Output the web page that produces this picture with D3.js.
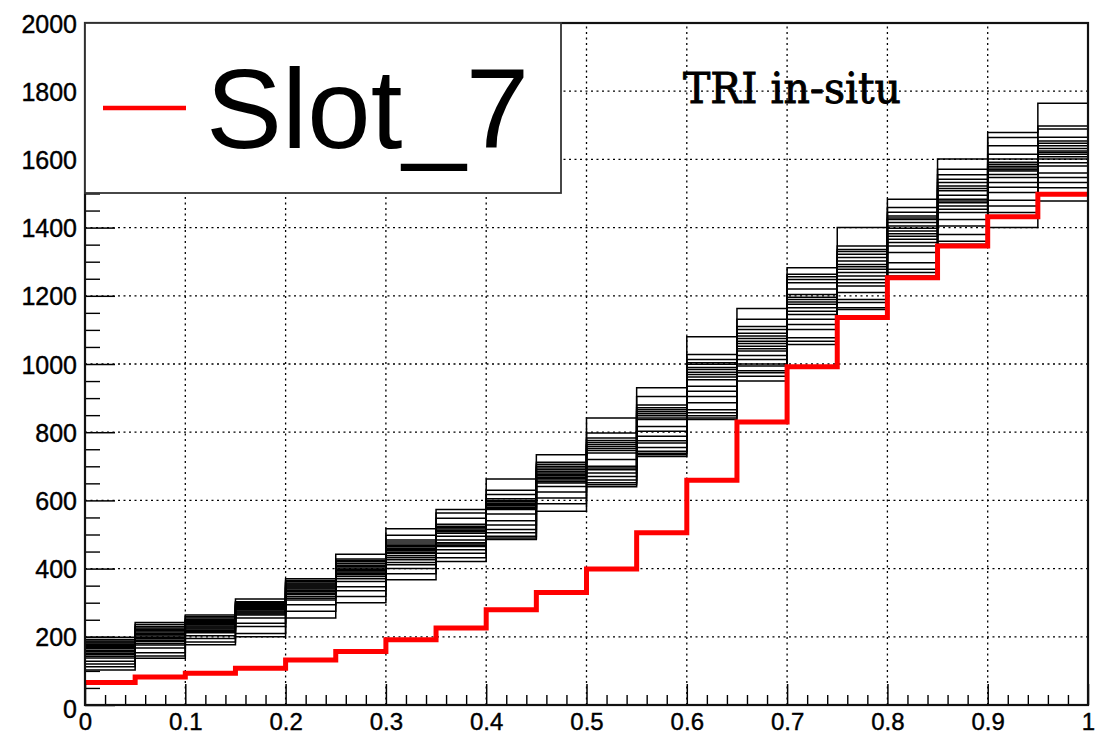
<!DOCTYPE html>
<html>
<head>
<meta charset="utf-8">
<script src="https://cdn.jsdelivr.net/npm/d3@7"></script>
<style>
  html, body { margin: 0; padding: 0; background: #fff; }
  svg { display: block; }
</style>
</head>
<body>
<svg id="chart" width="1105" height="736"></svg>
<script>
// Bin edges: 20 bins of width 0.05 on [0, 1]
const binEdges = d3.range(21).map(i => +(i * 0.05).toFixed(2));

// Slot_7 contents per bin
const slot7 = [66, 82, 93, 108, 132, 157, 191, 226, 279, 330,
               399, 505, 659, 830, 992, 1136, 1253, 1346, 1432, 1498];

// Contents of the other slots, listed bin by bin (one level per slot, high to low)
const otherSlotsByBin = [
  [199, 192, 188, 185, 182, 178, 175, 172, 168, 165, 160, 156, 152, 148, 143, 138, 128, 120, 112, 103],
  [242, 236, 230, 226, 222, 218, 214, 210, 206, 202, 198, 194, 190, 186, 180, 176, 167, 153, 144, 137],
  [264, 259, 255, 251, 248, 245, 242, 238, 235, 232, 229, 226, 223, 219, 215, 212, 203, 195, 185, 177],
  [311, 303, 300, 297, 294, 291, 288, 285, 282, 279, 276, 273, 270, 267, 264, 255, 240, 230, 210, 200],
  [370, 365, 362, 358, 355, 352, 349, 346, 343, 340, 336, 332, 328, 324, 318, 313, 308, 294, 275, 255],
  [442, 428, 424, 420, 415, 410, 406, 402, 398, 394, 390, 386, 382, 377, 370, 362, 347, 335, 318, 300],
  [517, 498, 484, 478, 472, 468, 464, 460, 456, 452, 448, 444, 438, 432, 426, 418, 411, 400, 385, 367],
  [573, 563, 548, 530, 524, 520, 516, 512, 508, 504, 495, 484, 476, 472, 468, 465, 455, 445, 432, 421],
  [663, 630, 617, 605, 600, 596, 592, 588, 584, 580, 576, 573, 560, 540, 528, 515, 505, 495, 490, 485],
  [734, 712, 706, 700, 695, 690, 685, 680, 676, 672, 668, 664, 660, 655, 651, 641, 625, 607, 590, 568],
  [842, 798, 783, 776, 770, 764, 758, 752, 746, 739, 720, 700, 695, 690, 680, 670, 660, 652, 646, 640],
  [930, 905, 880, 872, 866, 860, 854, 848, 842, 837, 817, 803, 788, 775, 768, 755, 744, 738, 734, 729],
  [1080, 1028, 1013, 1004, 999, 990, 984, 976, 969, 962, 954, 935, 920, 905, 886, 866, 857, 848, 842, 837],
  [1163, 1131, 1110, 1101, 1090, 1082, 1075, 1067, 1060, 1052, 1045, 1038, 1025, 1013, 1000, 994, 980, 974, 964, 950],
  [1282, 1263, 1256, 1248, 1238, 1220, 1204, 1196, 1189, 1182, 1175, 1165, 1155, 1145, 1131, 1116, 1101, 1077, 1067, 1057],
  [1400, 1346, 1336, 1330, 1322, 1312, 1302, 1292, 1285, 1278, 1268, 1258, 1248, 1238, 1229, 1210, 1189, 1180, 1165, 1160],
  [1483, 1459, 1445, 1434, 1428, 1424, 1415, 1405, 1398, 1390, 1382, 1375, 1366, 1356, 1346, 1327, 1297, 1278, 1268, 1258],
  [1601, 1571, 1555, 1542, 1532, 1522, 1515, 1508, 1495, 1483, 1478, 1473, 1463, 1454, 1444, 1424, 1405, 1380, 1360, 1351],
  [1679, 1664, 1640, 1615, 1601, 1592, 1586, 1580, 1575, 1570, 1566, 1556, 1547, 1532, 1518, 1503, 1480, 1463, 1444, 1400],
  [1765, 1698, 1689, 1665, 1654, 1647, 1640, 1632, 1625, 1620, 1615, 1608, 1601, 1590, 1581, 1560, 1547, 1532, 1517, 1478]
];

// Axis ticks
const xMajorTicks = d3.range(11).map(i => +(i * 0.1).toFixed(1));
const xMinorTicks = d3.range(51).map(i => +(i * 0.02).toFixed(2)).filter(v => Math.round(v * 100) % 10 !== 0);
const xTickLabels = ["0", "0.1", "0.2", "0.3", "0.4", "0.5", "0.6", "0.7", "0.8", "0.9", "1"];
const yMajorTicks = d3.range(0, 2001, 200);
const yMinorTicks = d3.range(0, 2001, 50).filter(v => v % 200 !== 0);
const yTickLabels = yMajorTicks.map(String);

const legendLabel = "Slot_7";
const titleText = "TRI in-situ";

// ---- layout ----
const svg = d3.select("#chart");
const frame = { left: 85, right: 1088, top: 23, bottom: 705 };

const x = d3.scaleLinear().domain([0, 1]).range([frame.left, frame.right]);
const y = d3.scaleLinear().domain([0, 2000]).range([frame.bottom, frame.top]);

svg.append("rect").attr("width", 1105).attr("height", 736).attr("fill", "#fff");

// Dotted grid at major ticks
const grid = svg.append("g").attr("stroke", "#000").attr("stroke-width", 1.3)
  .attr("stroke-dasharray", "2,3.5");
grid.selectAll("line.gx").data(xMajorTicks.slice(1, -1)).join("line")
  .attr("x1", d => x(d)).attr("x2", d => x(d))
  .attr("y1", frame.bottom).attr("y2", frame.top);
grid.selectAll("line.gy").data(yMajorTicks.slice(1, -1)).join("line")
  .attr("y1", d => y(d)).attr("y2", d => y(d))
  .attr("x1", frame.left).attr("x2", frame.right);

// Step outline for a histogram
function stepPath(values) {
  const pts = [];
  values.forEach((v, i) => {
    pts.push([x(binEdges[i]), y(v)]);
    pts.push([x(binEdges[i + 1]), y(v)]);
  });
  return d3.line()(pts);
}

// Other slots: slot k takes the k-th level of every bin
const nSlots = otherSlotsByBin[0].length;
const otherSlots = d3.range(nSlots).map(k => otherSlotsByBin.map(bin => bin[k]));

svg.append("g").selectAll("path").data(otherSlots).join("path")
  .attr("d", stepPath)
  .attr("fill", "none")
  .attr("stroke", "#000")
  .attr("stroke-width", 1.5);

// Slot_7 in red
svg.append("path")
  .attr("d", stepPath(slot7))
  .attr("fill", "none")
  .attr("stroke", "#ff0000")
  .attr("stroke-width", 5);

// ---- axes ----
const tickFont = "'Liberation Sans', Arial, Helvetica, sans-serif";

const xAxis = d3.axisBottom(x).tickValues(xMajorTicks)
  .tickFormat((d, i) => xTickLabels[i]).tickSizeInner(-21).tickSizeOuter(0).tickPadding(8);
const gx = svg.append("g").attr("transform", `translate(0,${frame.bottom})`).call(xAxis);
gx.select(".domain").remove();
gx.selectAll(".tick line").attr("stroke", "#000").attr("stroke-width", 1.5);
gx.selectAll(".tick text").attr("font-family", tickFont).attr("font-size", 24).attr("fill", "#000")
  .attr("stroke", "#000").attr("stroke-width", 0.4);

const xMinor = d3.axisBottom(x).tickValues(xMinorTicks).tickFormat("").tickSizeInner(-10).tickSizeOuter(0);
const gxm = svg.append("g").attr("transform", `translate(0,${frame.bottom})`).call(xMinor);
gxm.select(".domain").remove();
gxm.selectAll(".tick line").attr("stroke", "#000").attr("stroke-width", 1.4);

const yAxis = d3.axisLeft(y).tickValues(yMajorTicks)
  .tickFormat((d, i) => yTickLabels[i]).tickSizeInner(-30).tickSizeOuter(0).tickPadding(8);
const gy = svg.append("g").attr("transform", `translate(${frame.left},0)`).call(yAxis);
gy.select(".domain").remove();
gy.selectAll(".tick line").attr("stroke", "#000").attr("stroke-width", 1.5);
gy.selectAll(".tick text").attr("font-family", tickFont).attr("font-size", 25).attr("fill", "#000")
  .attr("stroke", "#000").attr("stroke-width", 0.4)
  .attr("dy", d => d === 0 ? "0.5em" : "0.36em");

const yMinor = d3.axisLeft(y).tickValues(yMinorTicks).tickFormat("").tickSizeInner(-15).tickSizeOuter(0);
const gym = svg.append("g").attr("transform", `translate(${frame.left},0)`).call(yMinor);
gym.select(".domain").remove();
gym.selectAll(".tick line").attr("stroke", "#000").attr("stroke-width", 1.4);

// Frame
svg.append("rect")
  .attr("x", frame.left).attr("y", frame.top)
  .attr("width", frame.right - frame.left).attr("height", frame.bottom - frame.top)
  .attr("fill", "none").attr("stroke", "#111").attr("stroke-width", 2.2);

// ---- legend ----
const legend = svg.append("g");
legend.append("rect")
  .attr("x", frame.left).attr("y", frame.top)
  .attr("width", 561 - frame.left).attr("height", 193 - frame.top)
  .attr("fill", "#fff").attr("stroke", "#333").attr("stroke-width", 1.8);
legend.append("line")
  .attr("x1", 103).attr("x2", 186).attr("y1", 108).attr("y2", 108)
  .attr("stroke", "#ff0000").attr("stroke-width", 4.5);
legend.append("text")
  .attr("x", 206).attr("y", 148)
  .attr("font-family", tickFont).attr("font-size", 114).attr("fill", "#000")
  .text(legendLabel);

// Label in the upper right of the plot
svg.append("text")
  .attr("x", 683).attr("y", 103)
  .attr("font-family", "'DejaVu Serif', serif").attr("font-size", 42)
  .attr("textLength", 218).attr("lengthAdjust", "spacingAndGlyphs")
  .attr("fill", "#000").attr("stroke", "#000").attr("stroke-width", 0.9)
  .text(titleText);
</script>
</body>
</html>
